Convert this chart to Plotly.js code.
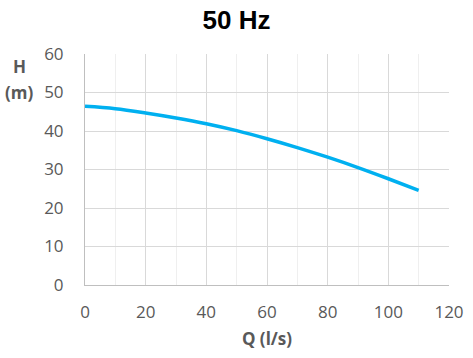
<!DOCTYPE html>
<html>
<head>
<meta charset="utf-8">
<script src="https://cdn.plot.ly/plotly-3.0.1.min.js"></script>
<style>html,body{margin:0;padding:0;background:#fff;}#chart{width:473px;height:358px;}</style>
</head>
<body>
<div id="chart"></div>
<script>
const flowQ = [0, 10, 20, 30, 40, 50, 60, 70, 80, 90, 100, 110];
const headH = [46.4, 45.8, 44.7, 43.4, 41.9, 40.1, 38.0, 35.7, 33.2, 30.5, 27.6, 24.6];
const xTicks = [0, 20, 40, 60, 80, 100, 120];
const yTicks = [0, 10, 20, 30, 40, 50, 60];

const tickFont = {family: "Open Sans, Liberation Sans, sans-serif", size: 17, color: "#595959"};
const labelFont = {family: "Open Sans, Liberation Sans, sans-serif", size: 17, color: "#595959"};

Plotly.newPlot("chart", [{
  x: flowQ, y: headH, type: "scatter", mode: "lines",
  line: {color: "#00B0F0", width: 3.5, shape: "spline"},
  hoverinfo: "skip"
}], {
  width: 473, height: 358,
  margin: {l: 85, r: 24, t: 54, b: 73},
  paper_bgcolor: "#fff", plot_bgcolor: "#fff",
  showlegend: false,
  title: {text: "<b>50 Hz</b>", x: 0.5, xanchor: "center", y: 0.945, yanchor: "middle",
    font: {family: "Liberation Sans, Arial, sans-serif", size: 26, color: "#000"}},
  xaxis: {
    range: [0, 120], tickvals: xTicks, ticktext: xTicks.map(String),
    showgrid: true, gridcolor: "#d9d9d9", gridwidth: 1,
    minor: {dtick: 10, showgrid: true, gridcolor: "#efefef", gridwidth: 1},
    showline: true, linecolor: "#bfbfbf", linewidth: 1,
    zeroline: false, ticks: "", tickfont: tickFont, ticklabelstandoff: 12,
    title: {text: "<b>Q (l/s)</b>", standoff: 10, font: labelFont}
  },
  yaxis: {
    range: [0, 60], tickvals: yTicks, ticktext: yTicks.map(String),
    showgrid: true, gridcolor: "#d9d9d9", gridwidth: 1,
    showline: true, linecolor: "#bfbfbf", linewidth: 1,
    zeroline: false, ticks: "", tickfont: tickFont, ticklabelstandoff: 17
  },
  annotations: [{
    text: "<b>H</b>", xref: "paper", yref: "paper", x: -0.181, y: 0.944,
    xanchor: "center", yanchor: "middle", showarrow: false, font: labelFont
  }, {
    text: "<b>(m)</b>", xref: "paper", yref: "paper", x: -0.181, y: 0.835,
    xanchor: "center", yanchor: "middle", showarrow: false, font: labelFont
  }]
}, {displayModeBar: false, staticPlot: true});
</script>
</body>
</html>
